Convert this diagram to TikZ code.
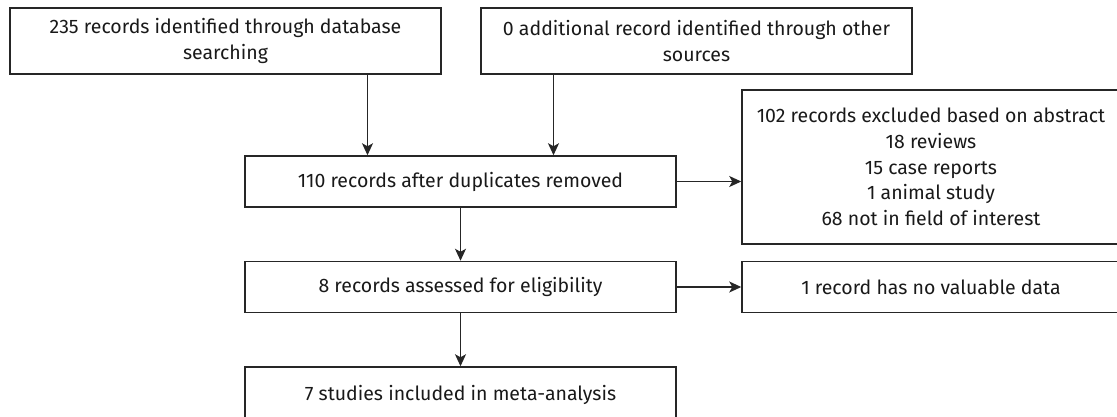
\documentclass[tikz,border=0pt]{standalone}
\usepackage{fontspec}
\setmainfont{Fira Sans}
\usepackage{tikz}
\usetikzlibrary{positioning}
\usetikzlibrary{arrows.meta}

\tikzset{
	box/.style={draw=black!85, line width=1.5pt, align=center, inner sep=0pt, font=\fontsize{19.5}{25.7}\selectfont, text=black!90},
	flow/.style={-{Stealth[length=12pt, width=11pt, inset=3pt]}, line width=1.4pt, draw=black!85}
}

\begin{document}
\begin{tikzpicture}[x=1pt,y=-1pt]
	\useasboundingbox (0,0) rectangle (1117,416);

	\node [box, minimum width=431pt, minimum height=66pt] (search) at (225.5,41) {235 records identified through database \\ searching};
	\node [box, minimum width=431pt, minimum height=66pt] (other) at (696.5,41) {0 additional record identified through other \\ sources};
	\node [box, minimum width=431pt, minimum height=51pt] (dup) at (460.5,181.5) {110 records after duplicates removed};
	\node [box, minimum width=378pt, minimum height=154pt] (excl) at (931,167) {102 records excluded based on abstract \\ 18 reviews \\ 15 case reports \\ 1 animal study \\ 68 not in field of interest};
	\node [box, minimum width=431pt, minimum height=51pt] (elig) at (460.5,287) {8 records assessed for eligibility};
	\node [box, minimum width=378pt, minimum height=51pt] (nodata) at (931,287) {1 record has no valuable data};
	\node [box, minimum width=431pt, minimum height=56pt] (incl) at (460.5,395) {7 studies included in meta-analysis};

	\coordinate (dupL) at ([xshift=-93pt]dup.north);
	\coordinate (dupR) at ([xshift=93pt]dup.north);
	\draw [flow] (search.south -| dupL) -- (dupL);
	\draw [flow] (other.south -| dupR) -- (dupR);
	\draw [flow] (dup.east) -- (dup.east -| excl.west);
	\draw [flow] (dup) -- (elig);
	\draw [flow] (elig) -- (nodata);
	\draw [flow] (elig) -- (incl);
\end{tikzpicture}
\end{document}
